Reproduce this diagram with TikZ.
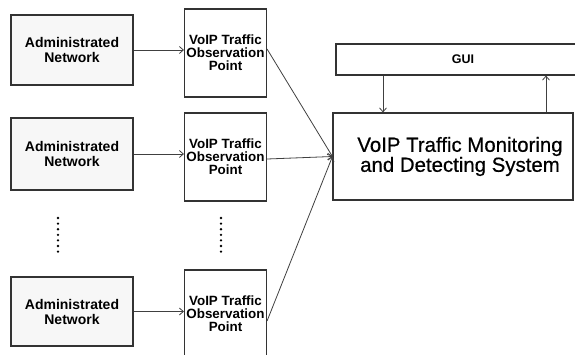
\documentclass[tikz,border=0pt]{standalone}
\usepackage{fontspec}
\setmainfont{Liberation Sans}
\usetikzlibrary{arrows.meta}
\begin{document}
\begin{tikzpicture}[x=1pt,y=-1pt,
  box/.style={draw=black!80,line width=1.1pt,inner sep=0pt,align=center},
  netbox/.style={box,fill=black!3,minimum width=122pt,minimum height=70pt,
     font=\bfseries\fontsize{14}{15}\selectfont},
  obsbox/.style={box,fill=white,minimum width=82pt,minimum height=88pt,
     font=\bfseries\fontsize{13.4}{13.2}\selectfont},
  arr/.style={draw=black!75,line width=0.8pt,-{Straight Barb[length=4pt,width=7pt]}},
  dotline/.style={line width=2.6pt,line cap=round,dash pattern=on 0pt off 5.6pt}
]
\useasboundingbox (0,0) rectangle (575,354);
\clip (0,0) rectangle (575,354);

\node[netbox] (n1) at (72,50) {Administrated\\Network};
\node[netbox,minimum height=72pt] (n2) at (72,154) {Administrated\\Network};
\node[netbox,minimum height=69pt] (n3) at (72,311.5) {Administrated\\Network};

\node[obsbox] (o1) at (225.5,53) {VoIP Traffic\\Observation\\Point};
\node[obsbox] (o2) at (225.5,157) {VoIP Traffic\\Observation\\Point};
\node[obsbox] (o3) at (225.5,314) {VoIP Traffic\\Observation\\Point};

\node[box,minimum width=254pt,minimum height=31pt,
  font=\bfseries\fontsize{12.5}{12.5}\selectfont] (gui) at (463,59.5) {GUI};
\node[box,minimum width=240pt,minimum height=87pt,
  font=\addfontfeature{FakeBold=0.6}\fontsize{20.4}{20}\selectfont] (main) at (453,156.5)
  {\hspace*{14pt}VoIP Traffic Monitoring\\\hspace*{14pt}and Detecting System};

\coordinate (d1a) at (58,218);
\coordinate (d1b) at (58,256);
\coordinate (d2a) at (221,218);
\coordinate (d2b) at (221,256);
\draw[dotline] (d1a) -- (d1b);
\draw[dotline] (d2a) -- (d2b);

\draw[arr] (n1.east) -- (n1.east -| o1.west);
\draw[arr] (n2.east) -- (n2.east -| o2.west);
\draw[arr] (n3.east) -- (n3.east -| o3.west);

\draw[arr] ([yshift=4pt]o1.east) -- (main.west);
\draw[arr] ([yshift=-2pt]o2.east) -- (main.west);
\draw[arr] ([yshift=-7pt]o3.east) -- (main.west);

\coordinate (xa) at (383,0);
\coordinate (xb) at (546,0);
\draw[arr] (gui.south -| xa) -- (main.north -| xa);
\draw[arr] (main.north -| xb) -- (gui.south -| xb);
\end{tikzpicture}
\end{document}
